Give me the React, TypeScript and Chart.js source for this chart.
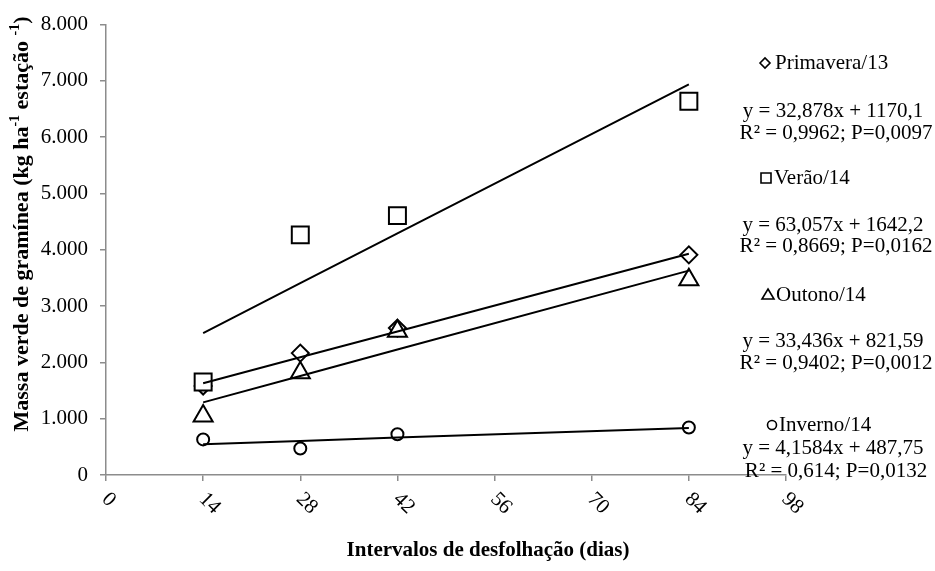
import React, { useEffect, useRef } from 'react';
import { Chart, registerables } from 'chart.js';

Chart.register(...registerables);

// ---- Data ----
const xValues = [14, 28, 42, 84];
const primavera = [1580, 2165, 2610, 3910];
const verao = [1650, 4265, 4607, 6640];
const outono = [1050, 1815, 2555, 3470];
const inverno = [632, 472, 725, 843];

const trendPrimavera = [1630, 2090, 2550, 3930];
const trendVerao = [2520, 3410, 4290, 6940];
const trendOutono = [1290, 1760, 2230, 3630];
const trendInverno = [545, 605, 665, 835];

const xTickValues = [0, 14, 28, 42, 56, 70, 84, 98];
const yTickValues = [0, 1000, 2000, 3000, 4000, 5000, 6000, 7000, 8000];

const seriesNames = ['Primavera/13', 'Verão/14', 'Outono/14', 'Inverno/14'];
const equations = [
  'y = 32,878x + 1170,1',
  'y = 63,057x + 1642,2',
  'y = 33,436x + 821,59',
  'y = 4,1584x + 487,75',
];
const statsLines = [
  'R² = 0,9962; P=0,0097',
  'R² = 0,8669; P=0,0162',
  'R² = 0,9402; P=0,0012',
  'R² = 0,614; P=0,0132',
];
const xTitle = 'Intervalos de desfolhação (dias)';
const yTitleParts = [
  { text: 'Massa verde de gramínea (kg ha', sup: false },
  { text: '-1', sup: true },
  { text: ' estação ', sup: false },
  { text: '-1', sup: true },
  { text: ')', sup: false },
];

const SERIF = '"Liberation Serif", "Times New Roman", serif';
const AXIS_COLOR = '#8c8c8c';

const pts = (ys: number[]) => xValues.map((x, i) => ({ x, y: ys[i] }));

const fmt = (v: number) => String(Math.round(v)).replace(/\B(?=(\d{3})+(?!\d))/g, '.');

function drawSymbol(ctx: CanvasRenderingContext2D, kind: string, x: number, y: number) {
  ctx.save();
  ctx.lineWidth = 1.6;
  ctx.strokeStyle = '#000';
  ctx.fillStyle = '#fff';
  ctx.beginPath();
  if (kind === 'diamond') {
    const r = 5;
    ctx.moveTo(x - r, y);
    ctx.lineTo(x, y - r);
    ctx.lineTo(x + r, y);
    ctx.lineTo(x, y + r);
    ctx.closePath();
  } else if (kind === 'square') {
    ctx.rect(x - 5, y - 5, 10, 10);
  } else if (kind === 'triangle') {
    ctx.moveTo(x, y - 6);
    ctx.lineTo(x + 6, y + 4);
    ctx.lineTo(x - 6, y + 4);
    ctx.closePath();
  } else {
    ctx.arc(x, y, 4.5, 0, Math.PI * 2);
  }
  ctx.fill();
  ctx.stroke();
  ctx.restore();
}

const annotationsPlugin = {
  id: 'annotations',
  afterDraw(chart: any) {
    const ctx: CanvasRenderingContext2D = chart.ctx;
    const xs = chart.scales.x;
    const area = chart.chartArea;
    ctx.save();
    ctx.fillStyle = '#000';

    // x tick labels rotated clockwise
    ctx.font = `21px ${SERIF}`;
    ctx.textAlign = 'left';
    ctx.textBaseline = 'middle';
    xTickValues.forEach((v) => {
      const px = xs.getPixelForValue(v);
      ctx.save();
      ctx.translate(px - 1, area.bottom + 21);
      ctx.rotate(Math.PI / 4);
      ctx.fillText(String(v), 0, 0);
      ctx.restore();
    });

    // x title
    ctx.font = `bold 21px ${SERIF}`;
    ctx.textAlign = 'center';
    ctx.fillText(xTitle, 488, 551);

    // y title (rotated, with superscripts)
    ctx.save();
    ctx.translate(22, 224);
    ctx.rotate(-Math.PI / 2);
    const mainFont = `bold 22px ${SERIF}`;
    const supFont = `bold 14px ${SERIF}`;
    let total = 0;
    yTitleParts.forEach((p) => {
      ctx.font = p.sup ? supFont : mainFont;
      total += ctx.measureText(p.text).width;
    });
    let cx = -total / 2;
    ctx.textAlign = 'left';
    ctx.textBaseline = 'middle';
    yTitleParts.forEach((p) => {
      ctx.font = p.sup ? supFont : mainFont;
      ctx.fillText(p.text, cx, p.sup ? -7 : 0);
      cx += ctx.measureText(p.text).width;
    });
    ctx.restore();

    // right-hand legend and equations
    const kinds = ['diamond', 'square', 'triangle', 'circle'];
    const symX = [765, 766, 768, 772];
    const nameX = [775, 774, 776, 779];
    const nameY = [63, 178, 295, 425];
    const eqY = [111, 225, 341, 448];
    const rY = [133, 246, 363, 471];
    ctx.font = `21px ${SERIF}`;
    ctx.textBaseline = 'middle';
    for (let i = 0; i < 4; i++) {
      drawSymbol(ctx, kinds[i], symX[i], nameY[i]);
      ctx.fillStyle = '#000';
      ctx.textAlign = 'left';
      ctx.fillText(seriesNames[i], nameX[i], nameY[i]);
      ctx.textAlign = 'center';
      ctx.fillText(equations[i], 833, eqY[i]);
      ctx.fillText(statsLines[i], 836, rY[i]);
    }
    ctx.restore();
  },
};

export default function App() {
  const ref = useRef<HTMLCanvasElement>(null);

  useEffect(() => {
    document.body.style.margin = '0';
    const canvas = ref.current;
    if (!canvas) return;

    const marker = (label: string, data: number[], style: string, radius: number, order: number) => ({
      type: 'scatter' as const,
      label,
      data: pts(data),
      pointStyle: style,
      pointRadius: radius,
      pointHoverRadius: radius,
      pointBackgroundColor: '#ffffff',
      pointBorderColor: '#000000',
      pointBorderWidth: 2,
      showLine: false,
      order,
    });
    const trend = (label: string, data: number[]) => ({
      type: 'line' as const,
      label,
      data: pts(data),
      borderColor: '#000000',
      borderWidth: 2,
      pointRadius: 0,
      pointHoverRadius: 0,
      fill: false,
      tension: 0,
      showLine: true,
      order: 0,
    });

    const chart = new Chart(canvas, {
      type: 'scatter',
      data: {
        datasets: [
          marker(seriesNames[0], primavera, 'rectRot', 8.5, 5),
          marker(seriesNames[2], outono, 'triangle', 11, 4),
          marker(seriesNames[3], inverno, 'circle', 6, 3),
          marker(seriesNames[1], verao, 'rect', 12, 2),
          trend('trend Primavera', trendPrimavera),
          trend('trend Verão', trendVerao),
          trend('trend Outono', trendOutono),
          trend('trend Inverno', trendInverno),
        ] as any,
      },
      options: {
        responsive: false,
        animation: false,
        events: [],
        layout: { padding: { left: 0, right: 149, top: 23, bottom: 0 } },
        plugins: {
          legend: { display: false },
          tooltip: { enabled: false },
        },
        scales: {
          x: {
            type: 'linear',
            min: 0,
            max: 98,
            afterBuildTicks: (scale: any) => {
              scale.ticks = xTickValues.map((v) => ({ value: v }));
            },
            ticks: { display: false },
            grid: {
              display: true,
              drawOnChartArea: false,
              drawTicks: true,
              tickLength: 6,
              color: AXIS_COLOR,
              lineWidth: 1.5,
            },
            border: { display: true, color: AXIS_COLOR, width: 1.5 },
            afterFit: (scale: any) => {
              scale.height = 96;
            },
          },
          y: {
            type: 'linear',
            min: 0,
            max: 8000,
            afterBuildTicks: (scale: any) => {
              scale.ticks = yTickValues.map((v) => ({ value: v }));
            },
            ticks: {
              color: '#000',
              font: { family: SERIF, size: 21 },
              padding: 12,
              callback: (v: any) => fmt(Number(v)),
            },
            grid: {
              display: true,
              drawOnChartArea: false,
              drawTicks: true,
              tickLength: 6,
              color: AXIS_COLOR,
              lineWidth: 1.5,
            },
            border: { display: true, color: AXIS_COLOR, width: 1.5 },
            afterFit: (scale: any) => {
              scale.width = 106;
            },
          },
        },
      } as any,
      plugins: [annotationsPlugin],
    });

    return () => chart.destroy();
  }, []);

  return (
    <div style={{ width: 935, height: 571, background: '#fff' }}>
      <canvas ref={ref} width={935} height={571} style={{ display: 'block' }} />
    </div>
  );
}
